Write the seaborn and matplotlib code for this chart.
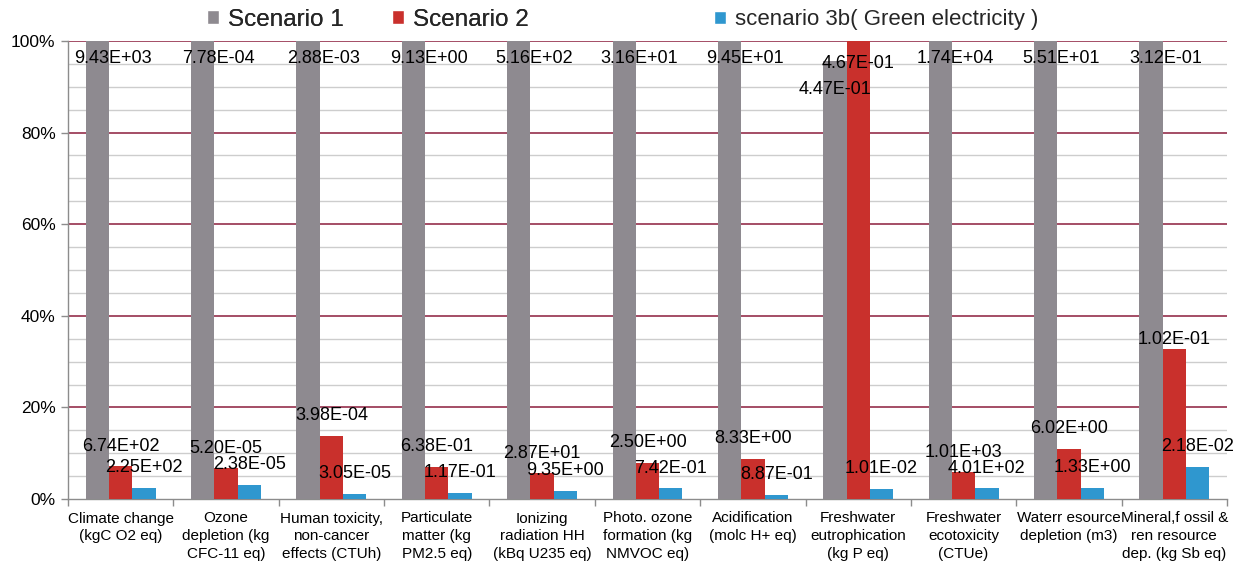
import matplotlib
matplotlib.use("Agg")
import matplotlib.pyplot as plt
import seaborn as sns
import pandas as pd
import numpy as np
from matplotlib.ticker import MultipleLocator, FuncFormatter
from matplotlib.patches import Patch

categories = [
    "Climate change\n(kgC O2 eq)",
    "Ozone\ndepletion (kg\nCFC-11 eq)",
    "Human toxicity,\nnon-cancer\neffects (CTUh)",
    "Particulate\nmatter (kg\nPM2.5 eq)",
    "Ionizing\nradiation HH\n(kBq U235 eq)",
    "Photo. ozone\nformation (kg\nNMVOC eq)",
    "Acidification\n(molc H+ eq)",
    "Freshwater\neutrophication\n(kg P eq)",
    "Freshwater\necotoxicity\n(CTUe)",
    "Waterr esource\ndepletion (m3)",
    "Mineral,f ossil &\nren resource\ndep. (kg Sb eq)",
]
series_names = ["Scenario 1", "Scenario 2", "scenario 3b( Green electricity )"]

s1_pct = [100, 100, 100, 100, 100, 100, 100, 95.7, 100, 100, 100]
s2_pct = [7.1, 6.7, 13.8, 7.0, 5.6, 7.9, 8.8, 100, 5.8, 10.9, 32.7]
s3_pct = [2.4, 3.1, 1.1, 1.3, 1.8, 2.3, 0.9, 2.2, 2.3, 2.4, 7.0]

s1_labels = ["9.43E+03", "7.78E-04", "2.88E-03", "9.13E+00", "5.16E+02", "3.16E+01",
             "9.45E+01", "4.47E-01", "1.74E+04", "5.51E+01", "3.12E-01"]
s2_labels = ["6.74E+02", "5.20E-05", "3.98E-04", "6.38E-01", "2.87E+01", "2.50E+00",
             "8.33E+00", "4.67E-01", "1.01E+03", "6.02E+00", "1.02E-01"]
s3_labels = ["2.25E+02", "2.38E-05", "3.05E-05", "1.17E-01", "9.35E+00", "7.42E-01",
             "8.87E-01", "1.01E-02", "4.01E+02", "1.33E+00", "2.18E-02"]

colors = ["#8E8A90", "#C9302C", "#2F97CF"]

sns.set_theme(style="white")
plt.rcParams["font.family"] = ["Liberation Sans", "DejaVu Sans"]

rows = []
for name, vals in zip(series_names, [s1_pct, s2_pct, s3_pct]):
    for c, v in zip(categories, vals):
        rows.append({"category": c, "series": name, "value": v / 100.0})
df = pd.DataFrame(rows)

fig = plt.figure(figsize=(12.37, 5.62), dpi=100)
ax = fig.add_axes([68 / 1237, 63 / 562, 1159 / 1237, 458 / 562])

sns.barplot(data=df, x="category", y="value", hue="series", order=categories,
            hue_order=series_names, palette=colors, width=0.664, saturation=1,
            edgecolor="none", linewidth=0, ax=ax, legend=False, zorder=3)

ax.set_xlim(-0.5, len(categories) - 0.5)
ax.set_ylim(0, 1.0)
ax.set_xlabel("")
ax.set_ylabel("")

# grid
ax.yaxis.set_major_locator(MultipleLocator(0.2))
ax.yaxis.set_minor_locator(MultipleLocator(0.05))
ax.yaxis.set_major_formatter(FuncFormatter(lambda v, p: f"{v*100:.0f}%"))
ax.grid(False)
for y in np.arange(0.05, 1.0001, 0.05):
    if abs(round(y / 0.2) * 0.2 - y) < 1e-6:
        ax.axhline(y, color="#8B1C3C", lw=1.1, zorder=1)
    else:
        ax.axhline(y, color="#CDCDCD", lw=1.0, zorder=0.5)

for s in ["top", "right"]:
    ax.spines[s].set_visible(False)
for s in ["left", "bottom"]:
    ax.spines[s].set_color("#8C8C8C")
    ax.spines[s].set_linewidth(1.0)

ax.tick_params(axis="y", which="major", length=5, width=1, color="#8C8C8C",
               labelsize=12.5, pad=4, left=True)
ax.tick_params(axis="y", which="minor", length=0)
ax.set_xticks(range(len(categories)))
ax.set_xticklabels(categories, fontsize=11, linespacing=1.32)
ax.set_xticks(np.arange(-0.5, len(categories), 1.0), minor=True)
ax.tick_params(axis="x", which="major", length=0, pad=9)
ax.tick_params(axis="x", which="minor", length=5, width=1, color="#8C8C8C", bottom=True)
for t in ax.get_xticklabels():
    t.set_color("black")
for t in ax.get_yticklabels():
    t.set_color("black")

# data labels
fs = 13
lab_sets = [s1_labels, s2_labels, s3_labels]
for si, cont in enumerate(ax.containers):
    for i, bar in enumerate(cont.patches):
        xc = bar.get_x() + bar.get_width() / 2
        h = bar.get_height()
        txt = lab_sets[si][i]
        if si == 0:
            dx, dy = 11, -12.5
            if i == 7:
                dx, dy = 0, -21
        else:
            dx, dy = 0, 14.5
            if h > 0.99:
                dy = -16
            if si == 1 and i == 10:
                dy = 7
        ax.annotate(txt, (xc, h), xytext=(dx, dy), textcoords="offset points",
                    ha="center", va="center", fontsize=fs, color="black", zorder=5)

# legend (two groups to mimic uneven spacing)
h1 = [Patch(facecolor=colors[0]), Patch(facecolor=colors[1])]
h2 = [Patch(facecolor=colors[2])]
leg1 = fig.legend(h1, series_names[:2], loc="center left",
                  bbox_to_anchor=(207 / 1237, 1 - 20 / 562), ncol=2, frameon=False,
                  fontsize=17.5, handlelength=0.5, handleheight=0.5,
                  handletextpad=0.35, columnspacing=2.0, borderpad=0, borderaxespad=0)
leg2 = fig.legend(h2, series_names[2:], loc="center left",
                  bbox_to_anchor=(714 / 1237, 1 - 20 / 562), ncol=1, frameon=False,
                  fontsize=16, handlelength=0.55, handleheight=0.55,
                  handletextpad=0.38, borderpad=0, borderaxespad=0)
fig.add_artist(leg1)

fig.savefig("out.png", dpi=100)
